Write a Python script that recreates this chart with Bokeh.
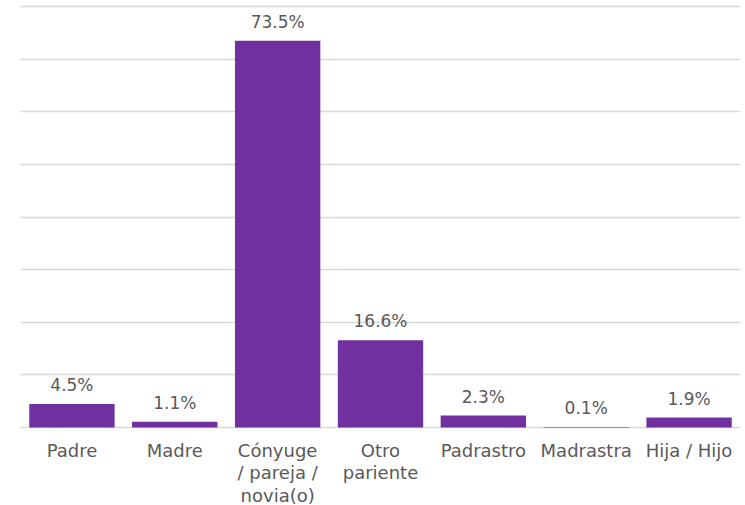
from bokeh.plotting import figure
from bokeh.models import ColumnDataSource, Range1d, FixedTicker, Grid
from bokeh.core.properties import value
from bokeh.embed import file_html
from bokeh.resources import INLINE

categories = ["Padre", "Madre", "Cónyuge", "Otro pariente",
              "Padrastro", "Madrastra", "Hija / Hijo"]
category_labels = ["Padre", "Madre", "Cónyuge\n/ pareja /\nnovia(o)", "Otro\npariente",
                   "Padrastro", "Madrastra", "Hija / Hijo"]
values = [4.5, 1.1, 73.5, 16.6, 2.3, 0.1, 1.9]
value_labels = [f"{v}%" for v in values]
grid_ticks = [0, 10, 20, 30, 40, 50, 60, 70, 80]
zeros = [0] * len(categories)

FONT = "DejaVu Sans"
TXT = "#595959"

src = ColumnDataSource(dict(cat=categories, val=values, lab=value_labels,
                            clab=category_labels, zero=zeros))

p = figure(x_range=categories, y_range=Range1d(-14.8, 80.4), width=745, height=505,
           output_backend="svg", toolbar_location=None,
           x_axis_location=None, y_axis_location=None,
           min_border_left=20, min_border_right=5, min_border_top=4, min_border_bottom=0)
p.outline_line_color = None
p.background_fill_color = "white"
p.border_fill_color = "white"
p.xgrid.visible = False
p.ygrid.visible = False

p.add_layout(Grid(dimension=1, ticker=FixedTicker(ticks=grid_ticks),
                  grid_line_color="#d9d9d9", grid_line_width=1.5))

p.vbar(x="cat", top="val", width=0.83, source=src, color="#7030A0", line_color=None)
p.text(x="cat", y="val", text="lab", source=src, text_align="center",
       text_baseline="bottom", y_offset=-9, text_color=TXT,
       text_font=value(FONT), text_font_size="17px")
p.text(x="cat", y="zero", text="clab", source=src, text_align="center",
       text_baseline="top", y_offset=12, text_color=TXT,
       text_font=value(FONT), text_font_size="18px", text_line_height=1.08)

open("out.html", "w").write(file_html(p, INLINE))
